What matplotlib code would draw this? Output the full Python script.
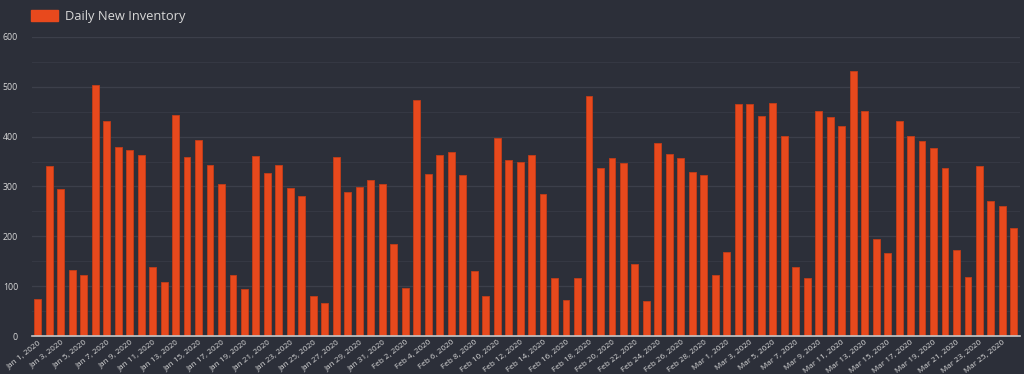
"""Daily New Inventory, Jan 1 - Mar 26 2020, dark theme bar chart."""

import matplotlib
matplotlib.use("Agg")
import matplotlib.pyplot as plt
import matplotlib.ticker as ticker
from matplotlib.patches import Patch
import pandas as pd

plt.rcParams["font.family"] = ["Open Sans", "DejaVu Sans"]

# ---------------------------------------------------------------------------
# Data
# ---------------------------------------------------------------------------

dates = pd.date_range("2020-01-01", "2020-03-26", freq="D")

inventory = [
    # Jan
    75, 341, 294, 133, 122, 503, 431, 380, 373, 364,
    138, 108, 443, 359, 394, 343, 306, 123, 94, 361,
    327, 343, 296, 280, 80, 67, 359, 289, 299, 313, 306,
    # Feb
    185, 96, 473, 325, 364, 369, 324, 131, 80, 397,
    354, 350, 364, 285, 117, 73, 117, 481, 338, 357,
    347, 145, 71, 387, 366, 357, 329, 324, 123,
    # Mar
    169, 466, 466, 441, 468, 401, 138, 117, 452, 439,
    422, 531, 452, 194, 166, 431, 401, 392, 378, 338,
    173, 119, 341, 271, 261, 217,
]

tick_labels = [f"{d.strftime('%b')} {d.day}, {d.year}" for d in dates]

# ---------------------------------------------------------------------------
# Theme
# ---------------------------------------------------------------------------

BG = "#2c2f39"
FG = "#d8d8d8"
BAR = "#e8491d"
BAR_EDGE = "#c43c18"
GRID_MAJOR = "#3c3f4a"
GRID_MINOR = "#353843"
BASE = "#c8c8c8"

# ---------------------------------------------------------------------------
# Figure
# ---------------------------------------------------------------------------

fig = plt.figure(figsize=(10.24, 3.74), dpi=100)
fig.patch.set_facecolor(BG)
ax = fig.add_axes([0.03125, 0.1016, 0.9645, 0.7995])
ax.set_facecolor(BG)

x = range(len(inventory))
ax.bar(x, inventory, width=0.6, color=BAR, edgecolor=BAR_EDGE,
       linewidth=0.6, zorder=3)

ax.set_xlim(-0.5, len(inventory) - 0.5)
ax.set_ylim(0, 600)

# Y axis
ax.yaxis.set_major_locator(ticker.MultipleLocator(100))
ax.yaxis.set_minor_locator(ticker.MultipleLocator(50))
ax.grid(axis="y", which="major", color=GRID_MAJOR, linewidth=0.9, zorder=1)
ax.grid(axis="y", which="minor", color=GRID_MINOR, linewidth=0.8, zorder=1)
ax.tick_params(axis="y", which="both", length=0, colors=FG, labelsize=6.3, pad=10)

# X axis: every other day labelled
ax.set_xticks(list(x)[::2])
ax.set_xticklabels(tick_labels[::2], rotation=38, ha="right",
                   rotation_mode="anchor", fontsize=5.9, color=FG)
ax.tick_params(axis="x", length=0, pad=2)

for side in ("top", "right", "left"):
    ax.spines[side].set_visible(False)
ax.spines["bottom"].set_color(BASE)
ax.spines["bottom"].set_linewidth(1.2)
ax.spines["bottom"].set_zorder(4)

# Legend (top left)
handles = [Patch(facecolor=BAR, edgecolor=BAR, label="Daily New Inventory")]
fig.legend(handles=handles, loc="upper left", bbox_to_anchor=(0.019, 1.005),
           frameon=False, fontsize=9.3, labelcolor=FG,
           handlelength=2.1, handleheight=1.0, handletextpad=0.5)

fig.savefig("out.png", dpi=100, facecolor=fig.get_facecolor())
plt.close(fig)
